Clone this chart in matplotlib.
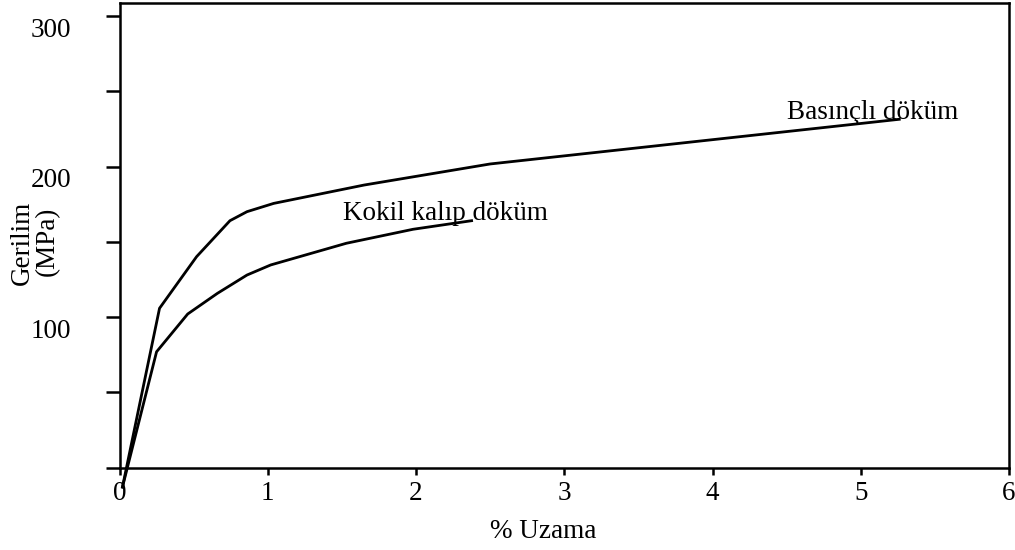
import matplotlib
matplotlib.use("Agg")
import matplotlib.pyplot as plt
from matplotlib.transforms import ScaledTranslation

# Basınçlı döküm (upper curve)
basincli_uzama = [0.02, 0.27, 0.52, 0.745, 0.86, 1.04, 1.65, 2.5, 5.26]
basincli_gerilim = [-13, 105.8, 140.1, 164.0, 170.0, 175.5, 187.7, 201.7, 231.4]

# Kokil kalıp döküm (lower curve)
kokil_uzama = [0.02, 0.25, 0.46, 0.66, 0.86, 1.02, 1.53, 1.98, 2.375]
kokil_gerilim = [-13, 76.9, 102.0, 115.7, 127.9, 134.6, 149.0, 158.3, 164.0]

x_ticks = [0, 1, 2, 3, 4, 5, 6]
y_ticks = [0, 50, 100, 150, 200, 250, 300]
y_tick_labels = ["", "", "100", "", "200", "", "300"]

plt.rcParams["font.family"] = ["Liberation Serif", "DejaVu Serif"]
fs = 19.5

fig = plt.figure(figsize=(10.15, 5.5), dpi=100)
ax = fig.add_axes([119.5 / 1015, 82.5 / 550, (1009 - 119.5) / 1015, (467.5 - 2.5) / 550])

ax.plot(basincli_uzama, basincli_gerilim, color="black", lw=2.0, clip_on=False)
ax.plot(kokil_uzama, kokil_gerilim, color="black", lw=2.0, clip_on=False)

ax.text(5.08, 236.2, "Basınçlı döküm", ha="center", va="center", fontsize=fs)
ax.text(2.2, 169.1, "Kokil kalıp döküm", ha="center", va="center", fontsize=fs)

ax.set_xlim(0, 6)
ax.set_ylim(0, 309)
ax.set_xticks(x_ticks)
ax.set_yticks(y_ticks)
ax.set_yticklabels(y_tick_labels)

for s in ax.spines.values():
    s.set_linewidth(1.8)

ax.tick_params(axis="x", direction="out", length=5, width=1.8, pad=5, labelsize=fs)
ax.tick_params(axis="y", direction="out", length=10, width=1.8, pad=25, labelsize=fs)

off = ScaledTranslation(0, -11 / 100, fig.dpi_scale_trans)
for lbl in ax.get_yticklabels():
    lbl.set_transform(lbl.get_transform() + off)

fig.text(22 / 1015, 1 - 243 / 550, "Gerilim", rotation=90, ha="center", va="center", fontsize=fs)
fig.text(47 / 1015, 1 - 241 / 550, "(MPa)", rotation=90, ha="center", va="center", fontsize=fs)
fig.text(543 / 1015, 1 - 532 / 550, "% Uzama", ha="center", va="center", fontsize=fs)

fig.savefig("out.png", dpi=100)
